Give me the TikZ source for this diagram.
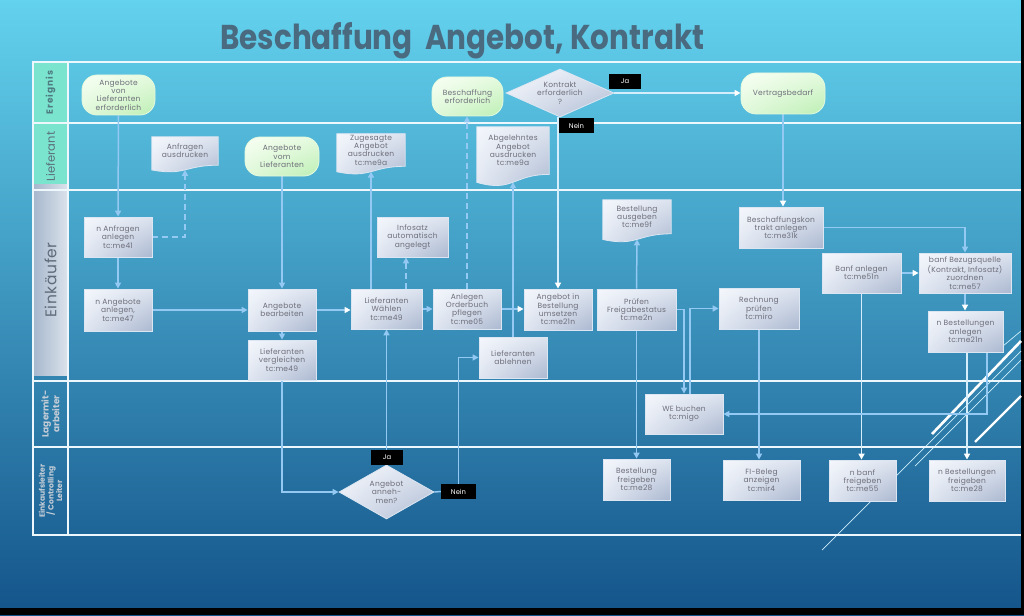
\documentclass[tikz,border=0pt]{standalone}
\usepackage{fontspec}
\usepackage{graphicx}
\setmainfont{Poppins}
\usetikzlibrary{arrows.meta,shapes.geometric,shadings,calc}
\definecolor{bgtop}{HTML}{63D2EE}
\definecolor{bgmid}{HTML}{3A9BC7}
\definecolor{bgbot}{HTML}{14548A}
\definecolor{conncol}{HTML}{93C9F2}
\definecolor{connlight}{HTML}{D6EEFC}
\definecolor{boxborder}{HTML}{DCE6F2}
\definecolor{boxtext}{HTML}{6E6E7A}
\definecolor{mint}{HTML}{7AE4CF}
\definecolor{titlecol}{HTML}{4A6A80}
\definecolor{bxUL}{HTML}{F4F7FC}
\definecolor{bxUR}{HTML}{DCE3EF}
\definecolor{bxLL}{HTML}{E0E6F1}
\definecolor{bxLR}{HTML}{ABB8D0}
\definecolor{tmUL}{HTML}{F8FFF4}
\definecolor{tmUR}{HTML}{E4FADE}
\definecolor{tmLL}{HTML}{E0F8DA}
\definecolor{tmLR}{HTML}{BDEFB4}
\definecolor{hdE}{HTML}{4F7A80}
\definecolor{hdL}{HTML}{5C6F7A}
\definecolor{hdK}{HTML}{5F6B78}
\definecolor{hdW}{HTML}{C3CCD6}
\definecolor{laneline}{HTML}{EEF8FC}
\definecolor{hkL}{HTML}{DCE3EC}
\definecolor{hkR}{HTML}{A6B7CC}
\pgfdeclarelayer{bg}
\pgfdeclarelayer{conn}
\pgfdeclarelayer{docs}
\pgfsetlayers{bg,conn,docs,main}
\newcommand\bxf{\fontsize{7.5}{8.3}\selectfont\addfontfeature{LetterSpace=3}}
\newcommand\lblf{\fontsize{6.8}{7}\selectfont}
\newcommand\docshape[1]{%
  \begin{pgfonlayer}{docs}
  \path[draw=boxborder, line width=0.8pt, upper left=bxUL, upper right=bxUR, lower left=bxLL, lower right=bxLR]
    let \p1=(#1.north west), \p2=(#1.south east), \n1={\y1-\y2} in
    (\p1) -- (\x2,\y1) -- (\p2) .. controls ({(\x1+\x2)/2},\y2) and ({(\x1+\x2)/2},{\y2-0.384*\n1}) .. (\x1,{\y2-0.1675*\n1}) -- cycle;
  \end{pgfonlayer}}
\begin{document}
\begin{tikzpicture}[x=1pt,y=-1pt,
  box/.style={draw=boxborder, line width=0.8pt, upper left=bxUL, upper right=bxUR, lower left=bxLL, lower right=bxLR, inner sep=1pt, align=center, text=boxtext, font=\bxf},
  term/.style={box, rounded corners=15pt, upper left=tmUL, upper right=tmUR, lower left=tmLL, lower right=tmLR, draw=tmUR},
  dia/.style={box, diamond, inner sep=0pt},
  docnode/.style={inner sep=1pt, align=center, text=boxtext, font=\bxf},
  lbl/.style={fill=black, text=white, font=\lblf, inner sep=0pt},
  conn/.style={draw=conncol, line width=1.5pt, -{Triangle[length=6pt,width=6pt]}},
  connw/.style={draw=connlight, line width=1.5pt, -{Triangle[length=6pt,width=6pt,color=white]}},
  dconn/.style={conn, dash pattern=on 6pt off 4pt},
  hdr/.style={rotate=90, inner sep=0pt, align=center, minimum height=35pt},
  lane/.style={draw=laneline, line width=2.2pt},
  deco/.style={draw=white, line width=2.6pt},
  decothin/.style={draw=white!80!cyan, line width=0.7pt}
]
\useasboundingbox (0,0) rectangle (1024,615);
\begin{pgfonlayer}{bg}
  \shade[top color=bgtop, middle color=bgmid, bottom color=bgbot] (0,0) rectangle (1024,615);
  \fill[black] (0,608) rectangle (1024,615);
  \fill[black] (1021,0) rectangle (1024,615);
  % decorative theme lines
  \path[deco] (932,434) -- (1021,341);
  \path[deco, line width=2.3pt] (975,442) -- (1021,396);
  \path[decothin] (822,550) -- (1021,351);
  \path[decothin] (915,466) -- (1021,360);
  \path[decothin] (1003,346) -- (1021,331);
  % lane headers
  \node[hdr, fill=mint, minimum width=61pt, text=hdE, font=\fontsize{9}{10}\selectfont\bfseries\addfontfeature{LetterSpace=10}] (hE) at (50.5,92.5) {Ereignis};
  \node[hdr, fill=mint, minimum width=67pt, text=hdL, font=\fontsize{11.5}{12}\selectfont] (hL) at (50.5,156.5) {Lieferant};
  \node[hdr, left color=hkR, right color=hkL, shading angle=90, minimum width=191pt, text=hdK, font=\fontsize{15.5}{16}\selectfont\addfontfeature{LetterSpace=4}] (hK) at (50.5,280) {Einkäufer};
  \node[hdr, minimum width=66pt, text=hdW, font=\fontsize{9}{9.5}\selectfont\bfseries] (hW) at (50.5,414) {Lagermit-\\arbeiter};
  \node[hdr, minimum width=88pt, text=hdW, font=\fontsize{7.6}{8.6}\selectfont\bfseries] (hC) at (50.5,491) {Einkaufsleiter\\/ Controlling\\Leiter};
  % lane lines
  \foreach \yy in {62,123,190,381,447,535} { \path[lane] (33,\yy) -- (1021,\yy); }
  \path[lane] (33,61) -- (33,536);
  \path[lane] (68,61) -- (68,536);
\end{pgfonlayer}
% title
\node[anchor=base west, text=titlecol, inner sep=0pt] (title) at (220,50) {\resizebox{484pt}{27pt}{\bfseries Beschaffung\ \ Angebot, Kontrakt}};
% Ereignis lane
\node[term, minimum width=73pt, minimum height=40pt] (E1) at (118.5,95) {Angebote\\von\\Lieferanten\\erforderlich};
\node[term, minimum width=71pt, minimum height=39pt] (E2) at (467.5,96.5) {Beschaffung\\erforderlich};
\node[dia, minimum width=108pt, minimum height=48pt, aspect=2.25] (D1) at (560,93) {Kontrakt\\erforderlich\\?};
\node[term, minimum width=84pt, minimum height=41pt] (E3) at (783,93.5) {Vertragsbedarf};
% Lieferant lane
\node[docnode, minimum width=66pt, minimum height=28pt] (L1) at (185,151) {Anfragen\\ausdrucken};
\node[term, minimum width=74pt, minimum height=39pt] (L2) at (282,156.5) {Angebote\\vom\\Lieferanten};
\node[docnode, minimum width=68pt, minimum height=32pt] (L3) at (371,150) {Zugesagte\\Angebot\\ausdrucken\\tc:me9a};
\node[docnode, minimum width=72pt, minimum height=47.2pt] (L4) at (513,150.6) {Abgelehntes\\Angebot\\ausdrucken\\tc:me9a};
% Einkaeufer lane
\node[box, minimum width=68pt, minimum height=40pt] (K1) at (118,237) {n Anfragen\\anlegen\\tc:me41};
\node[box, minimum width=68pt, minimum height=42pt] (K2) at (118,310) {n Angebote\\anlegen,\\tc:me47};
\node[box, minimum width=68pt, minimum height=42pt] (K3) at (282,310) {Angebote\\bearbeiten};
\node[box, minimum width=68pt, minimum height=40pt] (K4) at (282,360) {Lieferanten\\vergleichen\\tc:me49};
\node[box, minimum width=71pt, minimum height=40pt] (K5) at (386.5,309) {Lieferanten\\Wählen\\tc:me49};
\node[box, minimum width=68pt, minimum height=40pt] (K6) at (467,309) {Anlegen\\Orderbuch\\pflegen\\tc:me05};
\node[box, minimum width=68pt, minimum height=41pt] (K7) at (513,357.5) {Lieferanten\\ablehnen};
\node[box, minimum width=68pt, minimum height=41pt] (K8) at (558,309.5) {Angebot in\\Bestellung\\umsetzen\\tc:me21n};
\node[box, minimum width=79pt, minimum height=41pt] (K9) at (636.5,309.5) {Prüfen\\Freigabestatus\\tc:me2n};
\node[box, minimum width=80pt, minimum height=41pt] (K10) at (759,308.5) {Rechnung\\prüfen\\tc:miro};
\node[box, minimum width=71pt, minimum height=40pt] (K11) at (412.5,237) {Infosatz\\automatisch\\angelegt};
\node[docnode, minimum width=68pt, minimum height=33.6pt] (K12) at (637,216.8) {Bestellung\\ausgeben\\tc:me9f};
\node[box, minimum width=84pt, minimum height=41pt] (K13) at (781,227.5) {Beschaffungskon\\trakt anlegen\\tc:me31k};
\node[box, minimum width=79pt, minimum height=40pt] (K14) at (861.5,273) {Banf anlegen\\tc:me51n};
\node[box, minimum width=92pt, minimum height=40pt] (K15) at (965,273) {banf Bezugsquelle\\(Kontrakt, Infosatz)\\zuordnen\\tc:me57};
\node[box, minimum width=75pt, minimum height=41pt] (K16) at (965.5,331.5) {n Bestellungen\\anlegen\\tc:me21n};
% Lagermitarbeiter lane
\node[box, minimum width=78pt, minimum height=40pt] (W1) at (684,414) {WE buchen\\tc:migo};
% Einkaufsleiter lane
\node[dia, minimum width=95pt, minimum height=54pt, aspect=1.76] (D2) at (386.5,492) {Angebot\\anneh-\\men?};
\node[box, minimum width=67pt, minimum height=41pt] (C1) at (636.5,479.5) {Bestellung\\freigeben\\tc:me28};
\node[box, minimum width=77pt, minimum height=40pt] (C2) at (761.5,480) {FI-Beleg\\anzeigen\\tc:mir4};
\node[box, minimum width=67pt, minimum height=41pt] (C3) at (862.5,480.5) {n banf\\freigeben\\tc:me55};
\node[box, minimum width=76pt, minimum height=41pt] (C4) at (967,480.5) {n Bestellungen\\freigeben\\tc:me28};
% labels
\node[lbl, minimum width=32pt, minimum height=15pt] (Ja1) at (625,81.5) {Ja};
\node[lbl, minimum width=35pt, minimum height=15pt] (Nein1) at (576.5,125.5) {Nein};
\node[lbl, minimum width=32pt, minimum height=15pt] (Ja2) at (387,457.5) {Ja};
\node[lbl, minimum width=35pt, minimum height=15pt] (Nein2) at (458.5,491.5) {Nein};
% document shapes
\docshape{L1}
\docshape{L3}
\docshape{L4}
\docshape{K12}
% connectors
\begin{pgfonlayer}{conn}
  \draw[conn] (E1) -- (K1);
  \draw[dconn] (K1.east) -| ([yshift=-4.6pt]L1.south);
  \draw[conn] (K1) -- (K2);
  \draw[conn] (K2) -- (K3);
  \draw[conn] (L2) -- (K3);
  \draw[conn] (K3) -- (K4);
  \draw[connw, draw=conncol] (K3.east) -- (K3.east -| K5.west);
  \draw[conn] (K4.south) |- (D2.west);
  \draw[conn] (D2.north) -- (K5.south);
  \draw[conn, -] (D2.east) -- (Nein2.west);
  \draw[conn] (Nein2.north) |- (K7.west);
  \draw[conn] (K5.north -| L3.south) -- ([yshift=-5.3pt]L3.south);
  \draw[dconn] ([xshift=-6.5pt]K11.south |- K5.north) -- ([xshift=-6.5pt]K11.south);
  \draw[conn] (K5.east) -- (K5.east -| K6.west);
  \draw[dconn] (K6.north) -- (K6.north |- E2.south);
  \draw[connw, draw=conncol] (K6.east) -- (K6.east -| K8.west);
  \draw[conn] (K7.north) -- ([yshift=-7.8pt]L4.south);
  \draw[connw] (K8.north |- D1.south) -- (K8.north);
  \draw[connw] (D1.east) -- (D1.east -| E3.west);
  \draw[conn] (K9.north) -- ([yshift=-5.5pt]K12.south);
  \draw[conn] (K9.east) -| (W1.north);
  \draw[conn] ([xshift=6pt]W1.north) |- (K10.west);
  \draw[conn] (K9.south) -- (K9.south |- C1.north);
  \draw[conn] (K10.south) -- (K10.south |- C2.north);
  \draw[connw, draw=conncol] (E3.south) -- (E3.south |- K13.north);
  \draw[conn] (K13.east) -| (K15.north);
  \draw[connw, draw=conncol] (K14.east) -- (K15.west);
  \draw[connw, draw=conncol] (K15.south) -- (K15.south |- K16.north);
  \draw[connw] (K14.south) -- (K14.south |- C3.north);
  \draw[connw] ([xshift=1.5pt]K16.south) -- ([xshift=1.5pt]K16.south |- C4.north);
  \draw[conn] ([xshift=21.5pt]K16.south) |- (W1.east);
\end{pgfonlayer}
\end{tikzpicture}
\end{document}
